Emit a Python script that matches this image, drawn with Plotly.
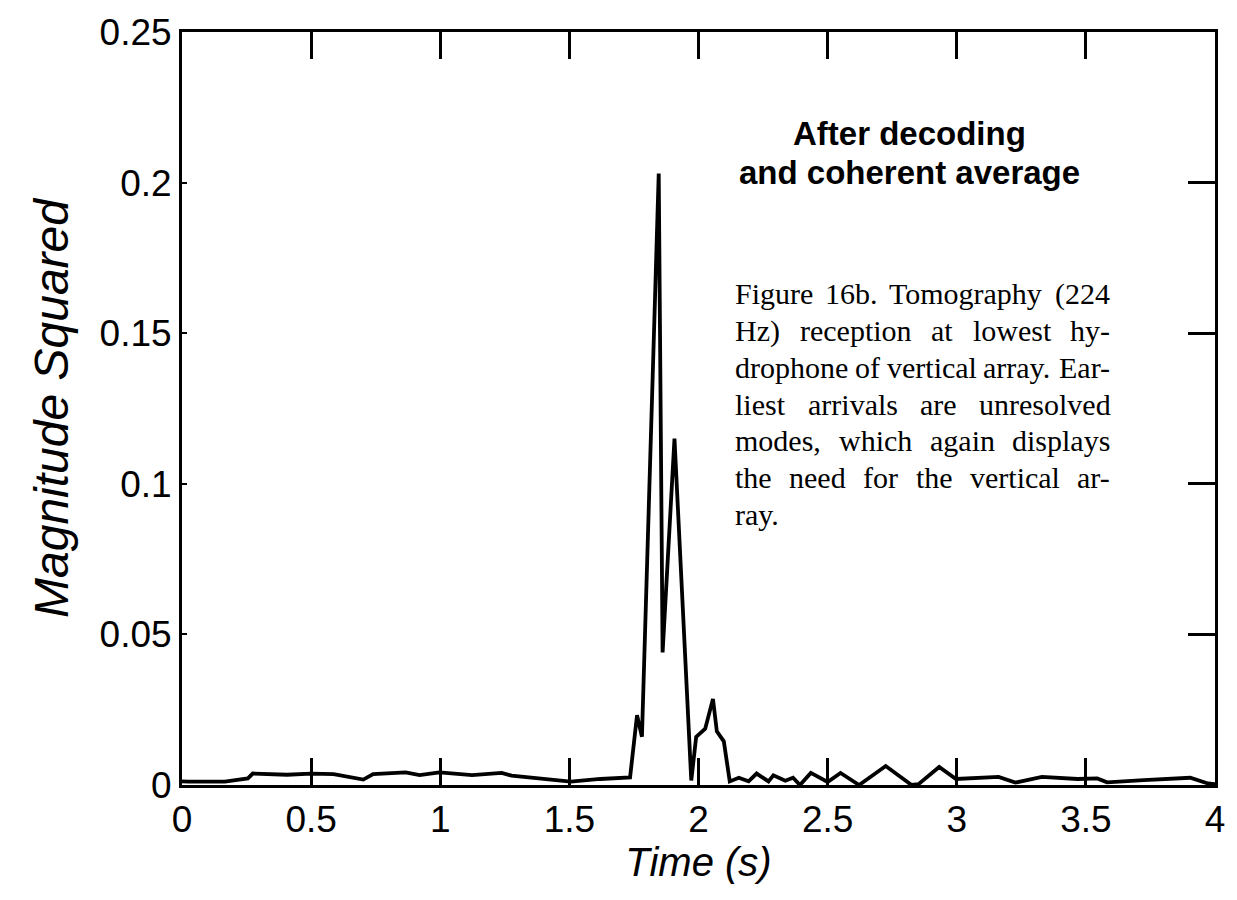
import plotly.graph_objects as go

# Received tomography signal after decoding and coherent averaging
time_s = [0.0, 0.025, 0.166, 0.255, 0.274, 0.407, 0.499, 0.587, 0.702, 0.74,
          0.866, 0.92, 0.997, 1.123, 1.238, 1.276, 1.505, 1.62, 1.735, 1.762,
          1.781, 1.846, 1.861, 1.907, 1.972, 1.991, 2.026, 2.056, 2.071, 2.098,
          2.121, 2.156, 2.194, 2.225, 2.271, 2.29, 2.336, 2.366, 2.393, 2.435,
          2.5, 2.55, 2.622, 2.725, 2.825, 2.852, 2.932, 2.997, 3.162, 3.227,
          3.33, 3.468, 3.544, 3.582, 3.724, 3.904, 3.973, 4.0]
magnitude_sq = [0.0012, 0.0011, 0.0011, 0.0022, 0.0038, 0.0034, 0.0038, 0.0036, 0.0018, 0.0036,
                0.0042, 0.0033, 0.0042, 0.0033, 0.004, 0.0031, 0.0011, 0.002, 0.0025, 0.0232,
                0.016, 0.203, 0.044, 0.115, 0.0015, 0.016, 0.0187, 0.0286, 0.0178, 0.0145,
                0.0012, 0.0024, 0.0012, 0.0038, 0.0012, 0.0032, 0.0014, 0.0024, 0.0, 0.004,
                0.001, 0.004, 0.0, 0.0063, 0.0, 0.0003, 0.006, 0.002, 0.0027, 0.0008,
                0.0027, 0.002, 0.0022, 0.0009, 0.0016, 0.0024, 0.0005, 0.0003]

x_ticks = [0, 0.5, 1, 1.5, 2, 2.5, 3, 3.5, 4]
x_tick_text = ["0", "0.5", "1", "1.5", "2", "2.5", "3", "3.5", "4"]
y_ticks = [0, 0.05, 0.1, 0.15, 0.2, 0.25]
y_tick_text = ["0", "0.05", "0.1", "0.15", "0.2", "0.25"]

heading_lines = ["After decoding", "and coherent average"]
caption_lines = [
    "Figure 16b. Tomography (224",
    "Hz) reception at lowest hy-",
    "drophone of vertical array. Ear-",
    "liest arrivals are unresolved",
    "modes, which again displays",
    "the need for the vertical ar-",
    "ray.",
]

SANS = "Liberation Sans, Arial, sans-serif"
SERIF = "Liberation Serif, Times New Roman, serif"

# plot area in pixels (used to place the text blocks in paper coordinates)
L, R, T, B = 182, 1218, 26, 785
W_PX, H_PX = 1237, 900

# Times-compatible advance widths (per 1000 em) for justifying the caption
SERIF_WIDTHS = {
    " ": 250, "(": 333, ")": 333, ",": 250, ".": 250, "-": 333,
    "A": 722, "E": 611, "F": 556, "H": 722, "T": 611,
    "a": 444, "b": 500, "c": 444, "d": 500, "e": 444, "f": 333, "g": 500,
    "h": 500, "i": 278, "l": 278, "m": 778, "n": 500, "o": 500, "p": 500,
    "r": 333, "s": 389, "t": 278, "u": 500, "v": 500, "w": 722, "y": 500,
    "z": 444,
}
for d in "0123456789":
    SERIF_WIDTHS[d] = 500

CAPTION_SIZE = 30
CAPTION_LEFT, CAPTION_RIGHT = 737, 1113
CAPTION_TOP, CAPTION_STEP = 290, 37


def px_to_paper(px, py):
    return (px - L) / (R - L), (B - py) / (B - T)


def word_width(word, size):
    return sum(SERIF_WIDTHS.get(ch, 500) for ch in word) * size / 1000.0


fig = go.Figure()
fig.add_trace(go.Scatter(
    x=time_s, y=magnitude_sq, mode="lines",
    line=dict(color="black", width=3.8),
    showlegend=False, hoverinfo="skip",
))
# invisible trace on the right-hand axis so its long inside ticks are drawn
fig.add_trace(go.Scatter(
    x=[0, 4], y=[0, 0.25], yaxis="y2", mode="lines",
    line=dict(width=0), showlegend=False, hoverinfo="skip",
))

axis_common = dict(showgrid=False, zeroline=False, showline=True,
                   linecolor="black", linewidth=3, tickcolor="black")

fig.update_layout(
    width=W_PX, height=H_PX,
    margin=dict(l=L, r=W_PX - R, t=T, b=H_PX - B),
    paper_bgcolor="white", plot_bgcolor="white",
    xaxis=dict(range=[0, 4], tickvals=x_ticks, ticktext=x_tick_text,
               ticks="inside", ticklen=27, tickwidth=3, mirror="ticks",
               tickfont=dict(family=SANS, size=37, color="black"),
               title=dict(text="Time (s)", standoff=2,
                          font=dict(family=SANS, size=40, color="black", style="italic")),
               **axis_common),
    yaxis=dict(range=[0, 0.25], tickvals=y_ticks, ticktext=y_tick_text,
               ticks="inside", ticklen=5, tickwidth=2, mirror=True,
               tickfont=dict(family=SANS, size=37, color="black"),
               title=dict(text="Magnitude Squared", standoff=16,
                          font=dict(family=SANS, size=48, color="black", style="italic")),
               **axis_common),
    yaxis2=dict(range=[0, 0.25], overlaying="y", side="right",
                tickvals=y_ticks, ticks="inside", ticklen=27, tickwidth=3,
                showticklabels=False, showgrid=False, zeroline=False,
                showline=False, tickcolor="black"),
)

# bold two-line heading, each line centred
for i, line in enumerate(heading_lines):
    hx, hy = px_to_paper(912, 128 + 40 * i)
    fig.add_annotation(x=hx, y=hy, xref="paper", yref="paper",
                       text=line, showarrow=False,
                       xanchor="center", yanchor="middle",
                       font=dict(family=SANS, size=33, color="black", weight="bold"))

# justified caption: words spread across the column, last line left as is
for i, line in enumerate(caption_lines):
    py = CAPTION_TOP + CAPTION_STEP * i
    words = line.split(" ")
    widths = [word_width(w, CAPTION_SIZE) for w in words]
    last_line = i == len(caption_lines) - 1
    if last_line or len(words) == 1:
        gap = SERIF_WIDTHS[" "] * CAPTION_SIZE / 1000.0
    else:
        gap = (CAPTION_RIGHT - CAPTION_LEFT - sum(widths)) / (len(words) - 1)
    x = CAPTION_LEFT
    for w, wd in zip(words, widths):
        cx, cy = px_to_paper(x, py)
        fig.add_annotation(x=cx, y=cy, xref="paper", yref="paper", text=w,
                           showarrow=False, xanchor="left", yanchor="middle",
                           borderpad=0, borderwidth=0,
                           font=dict(family=SERIF, size=CAPTION_SIZE, color="black"))
        x += wd + gap

fig.write_html("out.html")
